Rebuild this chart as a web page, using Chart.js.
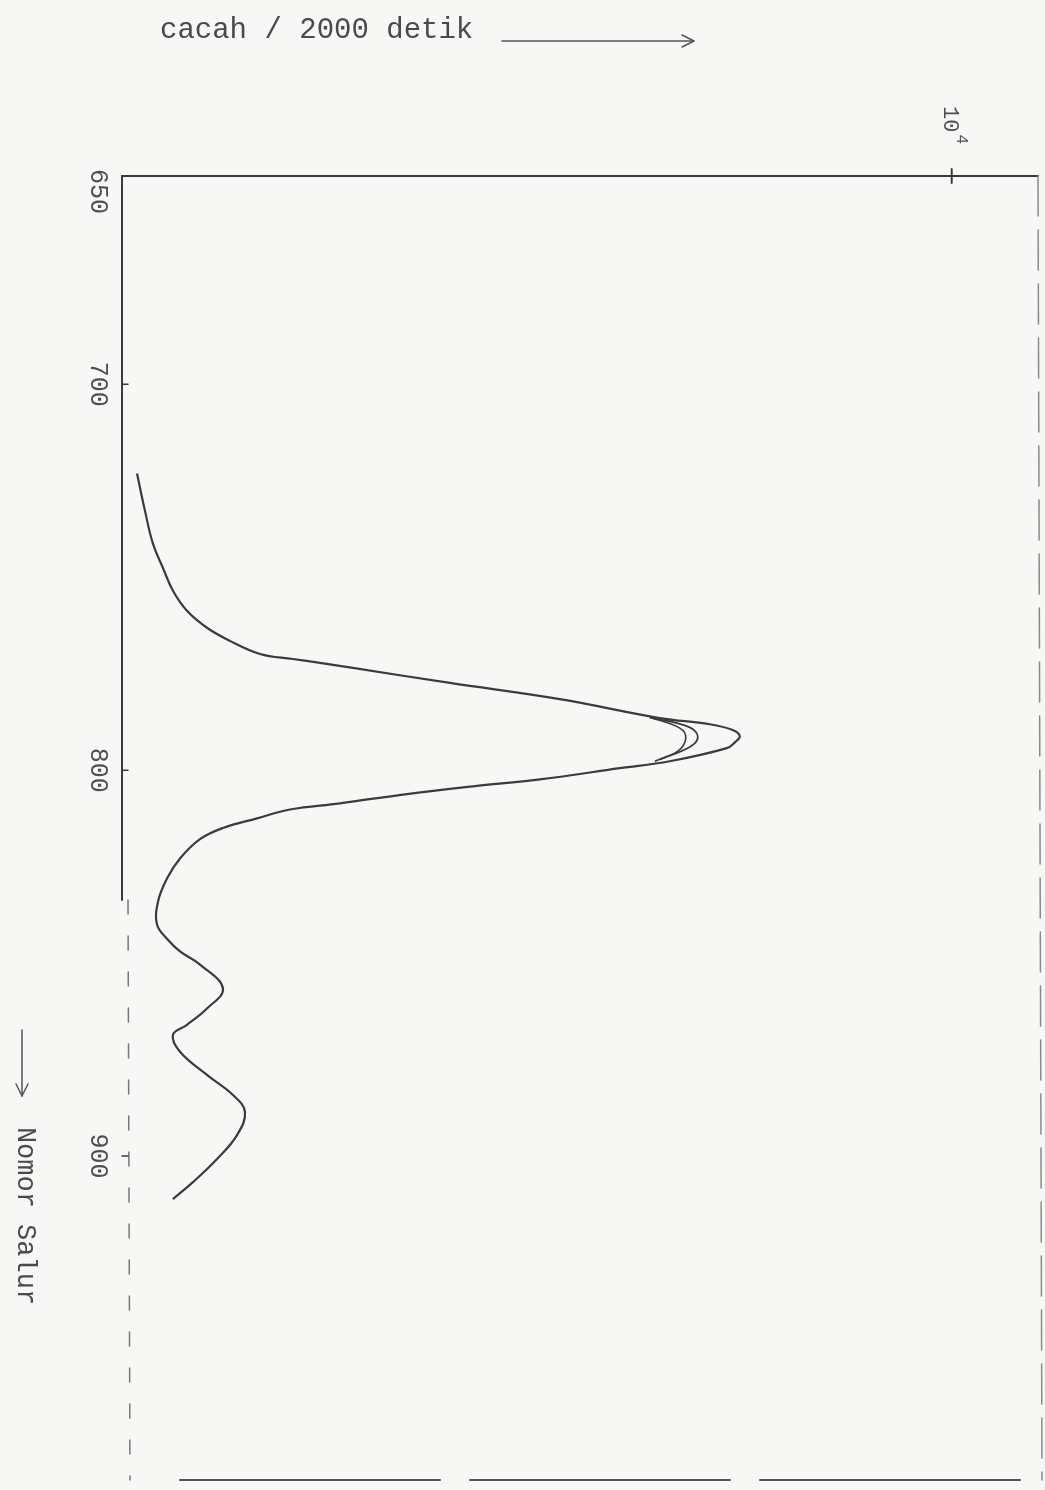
<!DOCTYPE html>
<html>
<head>
<meta charset="utf-8">
<script src="https://cdn.jsdelivr.net/npm/chart.js"></script>
<style>
  html, body { margin: 0; padding: 0; background: #f7f7f5; }
  #wrap { width: 1045px; height: 1490px; position: relative; }
</style>
</head>
<body>
<div id="wrap"><canvas id="spectrum"></canvas></div>
<script>
// channel number (Nomor Salur) and counts per 2000 s
const channel = [723.1, 732.8, 741.3, 747.6, 753.5, 758.7, 763.1, 766.5, 769.9, 771.2, 772.2,
  773.5, 777.4, 781.6, 786.5, 788.1, 789.6, 791.2, 792.8, 794.3, 797.7,
  799.5, 802.4, 804.2, 806.2, 808.6, 810.2, 812.5, 815.0, 817.9, 822.9, 828.1,
  834.1, 840.0, 843.7, 847.0, 850.4, 856.6, 861.8, 866.0, 868.6, 873.0,
  879.0, 884.2, 888.6, 894.6, 900.8, 906.8, 911.2];
const counts = [181, 277, 373, 494, 614, 783, 1024, 1301, 1663, 2060, 2386,
  2783, 3952, 5277, 6482, 7084, 7361, 7446, 7386, 7289, 6602,
  6000, 5036, 4229, 3434, 2627, 2024, 1627, 1217, 940, 699, 542,
  434, 422, 542, 699, 940, 1217, 1024, 783, 614, 699,
  1024, 1337, 1482, 1386, 1145, 855, 614];

// the pen went over the top of the peak more than once
const retraceChannelA = [786.3, 788.9, 791.5, 794.0, 797.2];
const retraceCountsA = [6361, 6843, 6940, 6843, 6482];
const retraceChannelB = [786.3, 789.1, 791.7, 795.1, 797.7];
const retraceCountsB = [6361, 6723, 6795, 6699, 6422];

const channelTicks = [650, 700, 800, 900];
const countTicks = [10000];

const toPoints = (ys, xs) => ys.map((c, i) => ({ x: xs[i], y: c }));
const ink = '#3b3b3b';
const font = '"Liberation Mono", "DejaVu Sans Mono", monospace';

function rotText(ctx, text, x, y, size) {
  ctx.save();
  ctx.translate(x, y);
  ctx.rotate(Math.PI / 2);
  ctx.font = size + 'px ' + font;
  ctx.textAlign = 'center';
  ctx.textBaseline = 'middle';
  ctx.fillText(text, 0, 0);
  ctx.restore();
}

function seg(ctx, x1, y1, x2, y2) {
  ctx.beginPath();
  ctx.moveTo(x1, y1);
  ctx.lineTo(x2, y2);
  ctx.stroke();
}

const paperFrame = {
  id: 'paperFrame',
  afterDraw(chart) {
    const { ctx, chartArea: a, scales: { x, y } } = chart;
    ctx.save();
    ctx.lineCap = 'round';

    // box
    ctx.strokeStyle = ink;
    ctx.lineWidth = 2;
    seg(ctx, a.left, a.top, a.right, a.top);
    seg(ctx, a.left, a.top, a.left, 900);
    ctx.setLineDash([14, 22]);
    ctx.strokeStyle = '#777';
    ctx.lineWidth = 1.5;
    seg(ctx, a.left + 6, 900, a.left + 8, a.bottom);
    ctx.setLineDash([40, 14]);
    ctx.strokeStyle = '#8a8a8a';
    seg(ctx, a.right, a.top, a.right + 4, a.bottom);
    ctx.setLineDash([260, 30]);
    ctx.strokeStyle = '#555';
    ctx.lineWidth = 2;
    seg(ctx, 180, a.bottom, a.right + 4, a.bottom);
    ctx.setLineDash([]);

    // channel ticks and labels
    ctx.fillStyle = '#4f4f4f';
    ctx.strokeStyle = ink;
    ctx.lineWidth = 1.5;
    channelTicks.forEach(v => {
      const py = y.getPixelForValue(v);
      if (v !== channelTicks[0]) seg(ctx, a.left, py, a.left + 6, py);
      rotText(ctx, String(v), a.left - 24, py, 25);
    });

    // count tick on the top edge
    countTicks.forEach(v => {
      const px = x.getPixelForValue(v);
      ctx.lineWidth = 2;
      seg(ctx, px, a.top - 7, px, a.top + 7);
      ctx.save();
      ctx.translate(px - 2, a.top - 70);
      ctx.rotate(Math.PI / 2);
      ctx.font = '22px ' + font;
      ctx.textAlign = 'left';
      ctx.textBaseline = 'middle';
      ctx.fillText('10', 0, 0);
      const w = ctx.measureText('10').width;
      ctx.font = '16px ' + font;
      ctx.fillText('4', w + 2, -12);
      ctx.restore();
    });

    // axis titles with arrows
    ctx.fillStyle = '#4a4a4a';
    ctx.font = '29px ' + font;
    ctx.textAlign = 'left';
    ctx.textBaseline = 'middle';
    ctx.fillText('cacah / 2000 detik', 160, 30);
    ctx.strokeStyle = '#555';
    ctx.lineWidth = 1.5;
    seg(ctx, 502, 41, 692, 41);
    seg(ctx, 682, 35, 694, 41);
    seg(ctx, 682, 47, 694, 41);

    rotText(ctx, 'Nomor Salur', 25, 1216, 27);
    seg(ctx, 22, 1030, 22, 1094);
    seg(ctx, 16, 1084, 22, 1096);
    seg(ctx, 28, 1084, 22, 1096);
    ctx.restore();
  }
};

const traceStyle = {
  showLine: true,
  borderColor: ink,
  borderWidth: 2.2,
  pointRadius: 0,
  tension: 0.4,
  fill: false
};

new Chart(document.getElementById('spectrum'), {
  type: 'scatter',
  data: {
    datasets: [
      Object.assign({ label: 'spektrum', data: toPoints(channel, counts) }, traceStyle),
      Object.assign({ label: 'ulang 1', data: toPoints(retraceChannelA, retraceCountsA) }, traceStyle, { borderWidth: 1.8 }),
      Object.assign({ label: 'ulang 2', data: toPoints(retraceChannelB, retraceCountsB) }, traceStyle, { borderWidth: 1.6 })
    ]
  },
  options: {
    responsive: true,
    maintainAspectRatio: false,
    animation: false,
    layout: { padding: { left: 122, top: 176, right: 7, bottom: 10 } },
    scales: {
      x: { type: 'linear', min: 0, max: 11040, display: false },
      y: { type: 'linear', min: 646, max: 984, reverse: true, display: false }
    },
    plugins: {
      legend: { display: false },
      tooltip: { enabled: false }
    }
  },
  plugins: [paperFrame]
});
</script>
</body>
</html>
